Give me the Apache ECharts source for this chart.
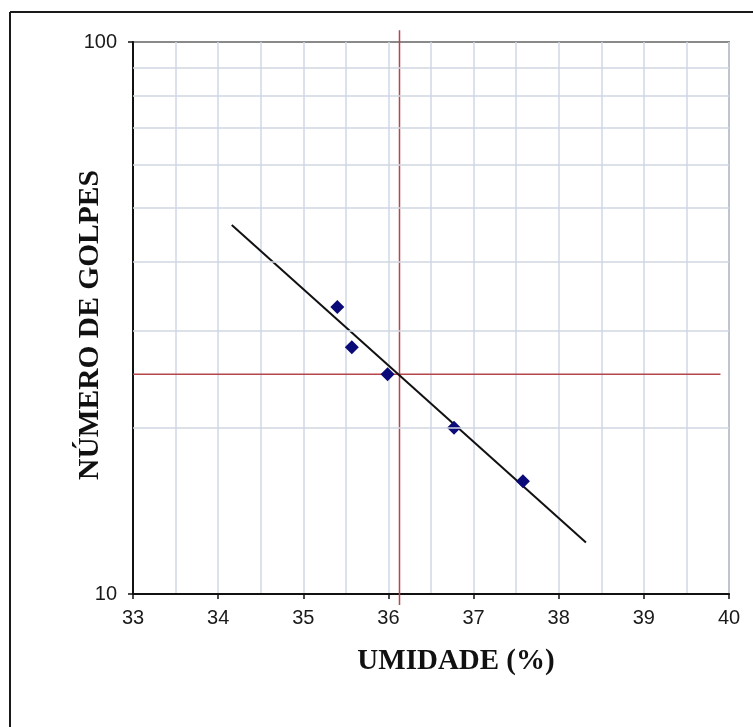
<!DOCTYPE html>
<html>
<head>
<meta charset="utf-8">
<script src="https://cdn.jsdelivr.net/npm/echarts@6/dist/echarts.min.js"></script>
<style>
  html, body { margin: 0; padding: 0; background: #fff; }
  #main { width: 753px; height: 727px; }
</style>
</head>
<body>
<div id="main"></div>
<script>
"use strict"
// data
var umidade = [35.4, 35.57, 35.99, 36.77, 37.58];
var golpes = [33.1, 28.0, 25.0, 20.0, 16.0];
var trendX = [34.16, 38.32];
var trendY = [46.6, 12.4];
var limiteX = 36.13;   // umidade at 25 golpes
var limiteY = 25;
var yGridValues = [20, 30, 40, 50, 60, 70, 80, 90];

var myChart = echarts.init(document.getElementById('main'));
var option = null;

var pontos = umidade.map(function (u, i) { return [u, golpes[i]]; });
var tendencia = trendX.map(function (t, i) { return [t, trendY[i]]; });

option = {
	backgroundColor: '#fff',
	animation: false,
	grid: {
		left: 133, top: 42, right: 24, bottom: 133,
		show: true,
		borderColor: '#8a8a8a',
		borderWidth: 2
	},
	graphic: [
		{ type: 'line', shape: { x1: 10, y1: 12, x2: 10, y2: 727 }, style: { stroke: '#1a1a1a', lineWidth: 2 } },
		{ type: 'line', shape: { x1: 10, y1: 12, x2: 753, y2: 12 }, style: { stroke: '#1a1a1a', lineWidth: 2 } }
	],
	xAxis: {
		type: 'value',
		min: 33, max: 40, interval: 1,
		name: 'UMIDADE (%)',
		nameLocation: 'middle',
		nameGap: 53,
		nameMoveOverlap: false,
		nameTextStyle: { fontFamily: 'Liberation Serif', fontWeight: 'bold', fontSize: 29, color: '#111', padding: [0, 0, 0, 50] },
		axisLine: { onZero: false, lineStyle: { color: '#111', width: 2 } },
		axisTick: { show: true, length: 5, lineStyle: { color: '#111', width: 1.5 } },
		axisLabel: { margin: 14, fontFamily: 'Liberation Sans', fontSize: 20, color: '#1a1a1a' },
		splitLine: { show: true, lineStyle: { color: '#cfd8e8', width: 1.5 } },
		minorTick: { show: false, splitNumber: 2 },
		minorSplitLine: { show: true, lineStyle: { color: '#cfd8e8', width: 1.5 } }
	},
	yAxis: {
		type: 'log',
		logBase: 10,
		min: 10, max: 100,
		name: 'NÚMERO DE GOLPES',
		nameLocation: 'middle',
		nameGap: 28,
		nameMoveOverlap: false,
		nameRotate: 90,
		nameTextStyle: { fontFamily: 'Liberation Serif', fontWeight: 'bold', fontSize: 29.5, color: '#111', padding: [0, 14, 0, 0] },
		axisLine: { onZero: false, lineStyle: { color: '#111', width: 2 } },
		axisTick: { show: true, length: 5, lineStyle: { color: '#111', width: 1.5 } },
		axisLabel: { margin: 16, fontFamily: 'Liberation Sans', fontSize: 20, color: '#1a1a1a' },
		splitLine: { show: false }
	},
	series: [
		{
			// horizontal grid lines of the log scale
			type: 'line',
			data: [],
			silent: true,
			z: 1,
			markLine: {
				silent: true,
				symbol: 'none',
				label: { show: false },
				lineStyle: { color: '#d0d6e0', width: 1.5, type: 'solid' },
				data: yGridValues.map(function (v) { return { yAxis: v }; })
			}
		},
		{
			// crosshair at 25 golpes
			type: 'line',
			data: [[limiteX, 9.55], [limiteX, 105]],
			clip: false,
			symbol: 'none',
			silent: true,
			z: 2,
			lineStyle: { color: '#b5474a', width: 1.5 }
		},
		{
			type: 'line',
			data: [[33, limiteY], [39.9, limiteY]],
			symbol: 'none',
			silent: true,
			z: 2,
			lineStyle: { color: '#b5474a', width: 1.5 }
		},
		{
			name: 'Tendência',
			type: 'line',
			data: tendencia,
			symbol: 'none',
			z: 3,
			lineStyle: { color: '#111', width: 2 }
		},
		{
			name: 'Ensaios',
			type: 'scatter',
			data: pontos,
			symbol: 'diamond',
			symbolSize: 14,
			z: 4,
			itemStyle: { color: '#0a0a78', opacity: 1 }
		}
	]
};

if (option && typeof option === "object") {
	myChart.setOption(option, true);
}
</script>
</body>
</html>
